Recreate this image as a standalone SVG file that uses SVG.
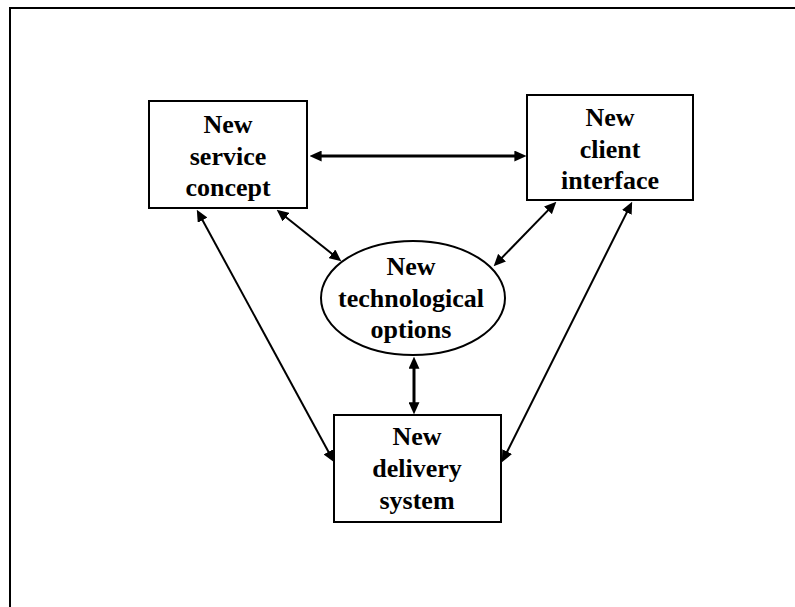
<svg xmlns="http://www.w3.org/2000/svg" width="795" height="607" viewBox="0 0 795 607">
<style>
.box{fill:#fff;stroke:#000;stroke-width:2}
.lbl{font-family:"Liberation Serif","Times New Roman",serif;font-weight:bold;font-size:26px;text-anchor:middle;fill:#000}
.thin{stroke:#000;stroke-width:2;fill:none}
.thick{stroke:#000;stroke-width:3;fill:none}
</style>
<defs>
<marker id="ah" markerUnits="userSpaceOnUse" markerWidth="12" markerHeight="11" refX="7" refY="5" orient="auto-start-reverse" viewBox="0 0 11 10">
<path d="M0,0 L11,5 L0,10 z" fill="#000"/>
</marker>
</defs>
<rect x="0" y="0" width="795" height="607" fill="#fff"/>
<path d="M10,607 L10,8 L795,8" fill="none" stroke="#000" stroke-width="2"/>
<g id="connectors">
<line class="thick" x1="314" y1="156" x2="522" y2="156" marker-start="url(#ah)" marker-end="url(#ah)"/>
<line class="thin" x1="198.9" y1="213.5" x2="332.1" y2="458.5" marker-start="url(#ah)" marker-end="url(#ah)"/>
<line class="thin" x1="280.1" y1="212.5" x2="337.9" y2="258.5" marker-start="url(#ah)" marker-end="url(#ah)"/>
<line class="thin" x1="553.3" y1="204.9" x2="496.7" y2="263.1" marker-start="url(#ah)" marker-end="url(#ah)"/>
<line class="thin" x1="630.2" y1="205.6" x2="503.8" y2="458.4" marker-start="url(#ah)" marker-end="url(#ah)"/>
<line class="thick" x1="414" y1="361" x2="414" y2="410" marker-start="url(#ah)" marker-end="url(#ah)"/>
</g>
<g id="service">
<rect class="box" x="149" y="101" width="158" height="107"/>
<text class="lbl" x="228" y="133">New</text>
<text class="lbl" x="228" y="165">service</text>
<text class="lbl" x="228" y="196">concept</text>
</g>
<g id="client">
<rect class="box" x="527" y="95" width="166" height="105"/>
<text class="lbl" x="610" y="126">New</text>
<text class="lbl" x="610" y="158">client</text>
<text class="lbl" x="610" y="189">interface</text>
</g>
<g id="tech">
<ellipse class="box" cx="413" cy="298" rx="92" ry="57"/>
<text class="lbl" x="411" y="275">New</text>
<text class="lbl" x="411" y="307">technological</text>
<text class="lbl" x="411" y="338">options</text>
</g>
<g id="delivery">
<rect class="box" x="334" y="415" width="167" height="107"/>
<text class="lbl" x="417" y="445">New</text>
<text class="lbl" x="417" y="477">delivery</text>
<text class="lbl" x="417" y="509">system</text>
</g>
</svg>
